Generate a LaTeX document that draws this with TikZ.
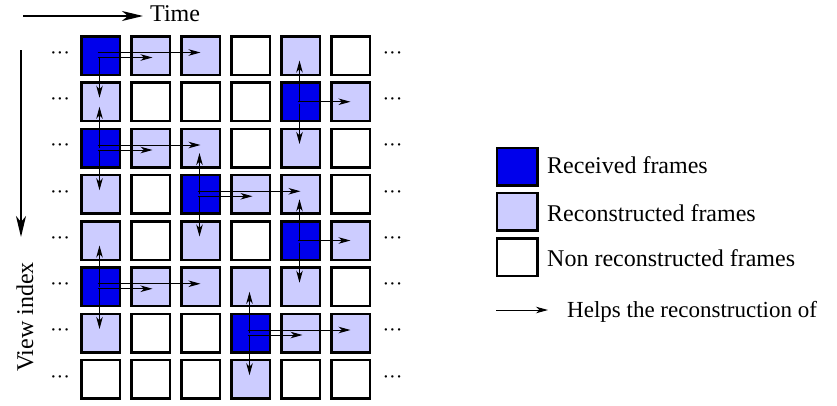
\documentclass[tikz,border=0pt]{standalone}
\usepackage{fontspec}
\setmainfont{Liberation Serif}
\usetikzlibrary{arrows.meta}
\definecolor{recv}{RGB}{0,0,235}
\definecolor{recon}{RGB}{204,204,255}
\begin{document}
\begin{tikzpicture}[x=1pt,y=-1pt,
  frame/.style={draw=black, line width=2.5pt, minimum size=38.5pt, inner sep=0pt, outer sep=0pt},
  R/.style={frame, fill=recv},
  L/.style={frame, fill=recon},
  W/.style={frame, fill=white},
  legbox/.style={minimum width=40.5pt, minimum height=37.5pt},
  help/.style={-{Stealth[length=12pt,width=6.5pt,inset=3.5pt]}, line width=1pt},
  axis/.style={-{Stealth[length=21pt,width=10pt,inset=6pt]}, line width=2pt},
  lbl/.style={font=\fontsize{24}{28}\selectfont, inner sep=0pt, anchor=base west},
  dots/.style={font=\fontsize{20}{24}\selectfont, inner sep=0pt}]
\useasboundingbox (0,0) rectangle (837,405);

% grid of frames
\foreach \row [count=\r] in {{R,L,L,W,L,W},{L,W,W,W,R,L},{R,L,L,W,L,W},{L,W,R,L,L,W},{L,W,L,W,R,L},{R,L,L,L,L,W},{L,W,W,R,L,L},{W,W,W,L,W,W}}{
  \foreach \t [count=\c] in \row {
    \node[\t] (n-\r-\c) at ({50.5+50*\c},{9.25+46.25*\r}) {};
  }
  \node[dots] (ld-\r) at (60,{9.25+46.25*\r}) {···};
  \node[dots] (rd-\r) at (392.5,{9.25+46.25*\r}) {···};
}

% double right arrows
\foreach \r/\c in {1/1,3/1,4/3,6/1,7/4}{
  \pgfmathtruncatemacro\ca{\c+1}
  \pgfmathtruncatemacro\cb{\c+2}
  \draw[help] ([shift={(-3pt,3pt)}]n-\r-\c.center) -- ([yshift=3pt]n-\r-\cb.center);
  \draw[help] ([shift={(-3pt,-2pt)}]n-\r-\c.center) -- ([shift={(2pt,-2pt)}]n-\r-\ca.center);
}
% single right arrows
\foreach \r/\c in {2/5,5/5}{
  \pgfmathtruncatemacro\ca{\c+1}
  \draw[help] ([xshift=-3pt]n-\r-\c.center) -- (n-\r-\ca.center);
}
% down arrows
\foreach \r/\c in {1/1,2/5,3/1,4/3,5/5,6/1,7/4}{
  \pgfmathtruncatemacro\rb{\r+1}
  \draw[help] ([shift={(-1pt,-2pt)}]n-\r-\c.center) -- ([shift={(-1pt,4pt)}]n-\rb-\c.center);
}
% up arrows
\foreach \r/\c in {2/5,3/1,4/3,5/5,6/1,7/4}{
  \pgfmathtruncatemacro\ra{\r-1}
  \draw[help] ([xshift=-1pt]n-\r-\c.center) -- ([shift={(-1pt,-5pt)}]n-\ra-\c.center);
}

% axes
\coordinate (t0) at (23,16);
\coordinate (t1) at (143,16);
\draw[axis] (t0) -- (t1);
\node[lbl] (time) at (150,21) {Time};
\coordinate (v0) at (21,50);
\coordinate (v1) at (21,237);
\draw[axis] (v0) -- (v1);
\node[font=\fontsize{24}{28}\selectfont, inner sep=0pt, rotate=90, anchor=base] (view) at (33,317) {View index};

% legend
\node[R, legbox] (lg1) at (517,166.5) {};
\node[L, legbox] (lg2) at (517,211.5) {};
\node[W, legbox] (lg3) at (517,257) {};
\node[lbl] (lt1) at (547,173) {Received frames};
\node[lbl] (lt2) at (547,221) {Reconstructed frames};
\node[lbl] (lt3) at (547,266) {Non reconstructed frames};
\coordinate (h0) at (496,310);
\coordinate (h1) at (548,310);
\draw[help] (h0) -- (h1);
\node[lbl, font=\fontsize{23}{27}\selectfont] (lt4) at (567,317) {Helps the reconstruction of};
\end{tikzpicture}
\end{document}
